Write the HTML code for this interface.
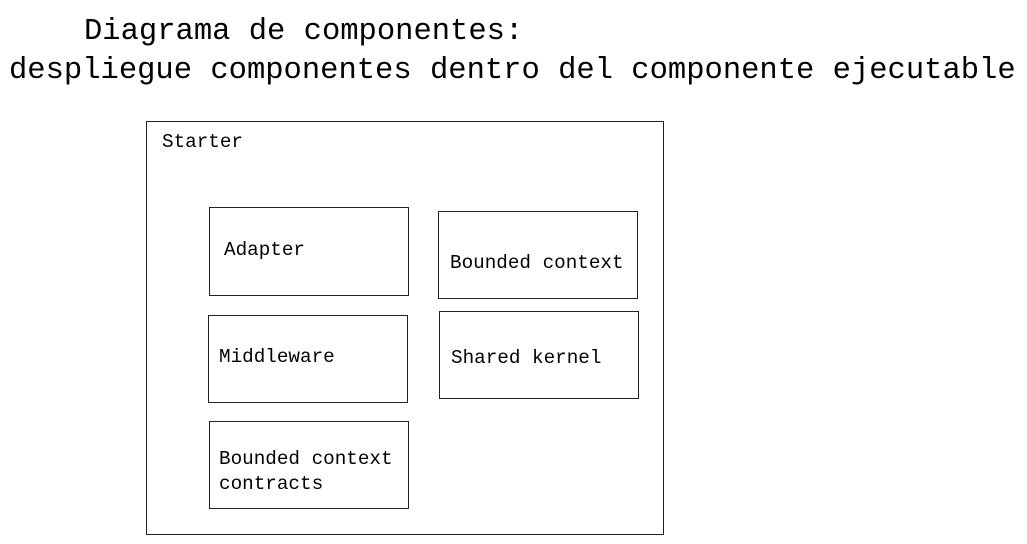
<!DOCTYPE html>
<html><head><meta charset="utf-8"><style>
body{margin:0;width:1027px;height:544px;background:#fff;position:relative;overflow:hidden;font-family:"Liberation Mono","DejaVu Sans Mono",monospace;color:#000}
.t{position:absolute;font-size:30.5px;white-space:pre;line-height:1}
.b{position:absolute;border:1.5px solid #222;box-sizing:border-box}
.l{position:absolute;font-size:19.3px;white-space:pre;line-height:25px}
</style></head><body>
<div class="t" style="left:84px;top:17px">Diagrama de componentes:</div>
<div class="t" style="left:9px;top:56px">despliegue componentes dentro del componente ejecutable</div>
<div class="b" style="left:146px;top:121px;width:518px;height:414px"></div>
<div class="l" style="left:162px;top:130px">Starter</div>
<div class="b" style="left:209px;top:207px;width:200px;height:89px"></div>
<div class="l" style="left:224px;top:238px">Adapter</div>
<div class="b" style="left:438px;top:211px;width:200px;height:88px"></div>
<div class="l" style="left:450px;top:251px">Bounded context</div>
<div class="b" style="left:208px;top:315px;width:200px;height:88px"></div>
<div class="l" style="left:219px;top:345px">Middleware</div>
<div class="b" style="left:439px;top:311px;width:200px;height:88px"></div>
<div class="l" style="left:451px;top:346px">Shared kernel</div>
<div class="b" style="left:209px;top:421px;width:200px;height:88px"></div>
<div class="l" style="left:219px;top:447px">Bounded context
contracts</div>
</body></html>
